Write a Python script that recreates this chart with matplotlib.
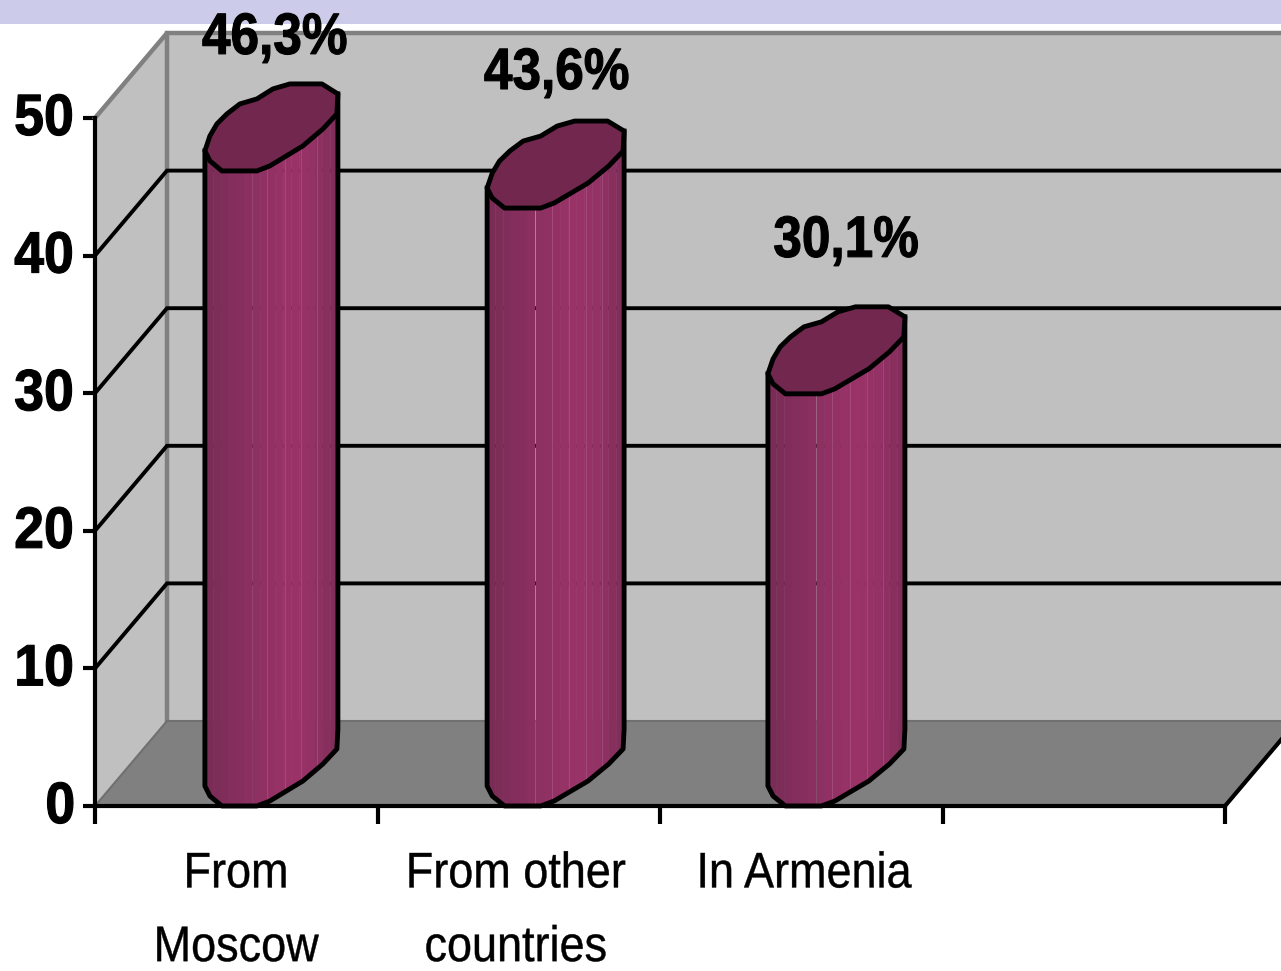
import numpy as np
import matplotlib
matplotlib.use("Agg")
import matplotlib.pyplot as plt
from matplotlib.patches import Polygon, Rectangle
from matplotlib.patheffects import AbstractPathEffect
from matplotlib.transforms import Affine2D

plt.rcParams['font.family'] = ['Liberation Sans', 'DejaVu Sans']

# ===== DATA =====
categories = ["From\nMoscow", "From other\ncountries", "In Armenia"]
values = [46.3, 43.6, 30.1]
value_labels = ["46,3%", "43,6%", "30,1%"]
y_ticks = [0, 10, 20, 30, 40, 50]

# ===== LAYOUT (pixels of the 1281x971 picture) =====
W, H = 1281, 971
X0, X1, Y0, Y50 = 95, 1225, 806, 118
SLOT = (X1 - X0) / 4
UNIT = (Y0 - Y50) / 50
DX = 72 / SLOT
DY = 85 / UNIT
TOP_SHIFT = 2 / UNIT
BAR_LEFT = [0.389, 1.388, 2.382]
BAR_PX = [133, 137, 137]
LABEL_X = [0.637, 1.635, 2.659]
LABEL_Y = [55.75, 53.2, 41.0]
CAT_X = [0.50, 1.49, 2.51]

# cap outline, pixels from the bar's left edge and the value height
CAP = np.array([
    (0, 20), (5, 10), (17, 0), (52, 0), (65, 5), (98, 25), (118, 42), (132, 57),
    (133, 77), (117, 87), (85, 87), (68, 82), (52, 72), (35, 67), (22, 57),
    (12, 47), (5, 35),
], dtype=float)

STRIPS = ["#7a2c57", "#7c2d58", "#802d5b", "#832e5c", "#862f5e", "#8a2f60", "#8d3062",
          "#903063", "#933164", "#963266", "#983267", "#983267", "#973267", "#943165",
          "#8f3062", "#882f5e", "#822e5b"]
CAP_COLOR = "#72274f"


class Narrow(AbstractPathEffect):
    # squeezes a text around its own middle, no narrow font is installed
    def __init__(self, sx, stroke=0):
        super().__init__()
        self.sx = sx
        self.stroke = stroke

    def draw_path(self, renderer, gc, tpath, affine, rgbFace=None):
        w = tpath.get_extents().x1
        t = Affine2D().translate(-w / 2, 0).scale(self.sx, 1).translate(w / 2, 0)
        gc0 = renderer.new_gc()
        gc0.copy_properties(gc)
        gc0.set_linewidth(self.stroke)
        gc0.set_foreground("black")
        renderer.draw_path(gc0, tpath, t + affine, rgbFace)
        gc0.restore()


fig = plt.figure(figsize=(W / 100, H / 100), dpi=100, facecolor="white")
fig.add_artist(Rectangle((0, 1 - 24 / H), 1, 24 / H, transform=fig.transFigure,
                         facecolor="#ccccea", edgecolor="none", zorder=0))
ax = fig.add_axes([X0 / W, 1 - Y0 / H, (X1 - X0) / W, (Y0 - Y50) / H])
ax.patch.set_visible(False)
ax.set_xlim(0, 4)
ax.set_ylim(0, 50)


def add_poly(pts, **kw):
    ax.add_patch(Polygon(pts, closed=True, clip_on=False, **kw))


right = 4 + 2 * DX
# ===== WALLS =====
add_poly([(DX, DY), (right, DY), (right, 50 + DY), (DX, 50 + DY)],
         facecolor="#c0c0c0", edgecolor="none", zorder=1)
add_poly([(0, 0), (DX, DY), (DX, 50 + DY), (0, 50)],
         facecolor="#c0c0c0", edgecolor="none", zorder=1)
add_poly([(0, 0), (DX, DY), (right, DY), (4 + DX, DY), (4, 0)],
         facecolor="#808080", edgecolor="none", zorder=1)
ax.plot([0, DX, DX], [50, 50 + DY, DY], color="#808080", lw=3.2, clip_on=False, zorder=2)
ax.plot([DX, right], [50 + DY, 50 + DY], color="#808080", lw=3.2, clip_on=False, zorder=2)
ax.plot([DX, right], [DY, DY], color="#707070", lw=1.5, clip_on=False, zorder=2)
ax.plot([0, DX], [0, DY], color="#707070", lw=1.5, clip_on=False, zorder=2)

for t in y_ticks[1:-1]:
    ax.plot([0, DX, right], [t, t + DY, t + DY], color="black", lw=2.8,
            clip_on=False, zorder=2, solid_joinstyle="miter")
ax.plot([4, 4 + DX], [0, DY], color="black", lw=3, clip_on=False, zorder=6)

# ===== BARS =====
for left, px, val, lab, lx, ly in zip(BAR_LEFT, BAR_PX, values, value_labels, LABEL_X, LABEL_Y):
    shape = CAP * [px / 133, 1]
    front = shape[:9]
    fx = left + front[:, 0] / SLOT
    fy = front[:, 1] / UNIT
    top = val - TOP_SHIFT
    edges = np.linspace(fx[0], fx[-1], len(STRIPS) + 1)
    for a, b, c in zip(edges[:-1], edges[1:], STRIPS):
        xs = np.linspace(a, b, 6)
        low = np.interp(xs, fx, fy)
        ax.fill_between(xs, low, low + top, color=c, lw=0.3, clip_on=False, zorder=3)
    for f in [0.47, 0.60, 0.72, 0.84]:
        xl = fx[0] + f * (fx[-1] - fx[0])
        low = np.interp(xl, fx, fy)
        ax.plot([xl, xl], [low, low + top], color="#b0608c", lw=0.6, alpha=0.6,
                clip_on=False, zorder=3)
    # outline of the column
    ax.plot(np.r_[fx[0], fx, fx[-1]], np.r_[top + fy[0], fy, top + fy[-1]],
            color="black", lw=3.5, clip_on=False, zorder=4, solid_joinstyle="round")
    cap = np.c_[left + shape[:, 0] / SLOT, top + shape[:, 1] / UNIT]
    add_poly(cap, facecolor=CAP_COLOR, edgecolor="black", lw=3.5, zorder=5, joinstyle="round")
    ax.text(lx, ly, lab, ha="center", va="center", fontsize=42, fontweight="bold",
            color="black", clip_on=False, zorder=7, path_effects=[Narrow(0.88, 0.8)])

# ===== AXES =====
for s in ["top", "right"]:
    ax.spines[s].set_visible(False)
for s in ["left", "bottom"]:
    ax.spines[s].set_linewidth(3)
    ax.spines[s].set_zorder(6)
ax.set_xticks(range(5))
ax.set_xticklabels([])
ax.set_yticks(y_ticks)
ax.set_yticklabels(y_ticks, fontsize=42, fontweight="bold")
ax.tick_params(axis="y", length=8.5, width=3, pad=3)
ax.tick_params(axis="x", length=13, width=3)
for t in ax.get_xticklines() + ax.get_yticklines():
    t.set_zorder(6)
for lab in ax.get_yticklabels():
    lab.set_transform(lab.get_transform() + Affine2D().translate(-2.5, 4))
    lab.set_path_effects([Narrow(0.92, 0.8)])

for x, c in zip(CAT_X, categories):
    ax.text(x, -3.3, c, ha="center", va="top", fontsize=36, color="black", clip_on=False,
            linespacing=1.77, path_effects=[Narrow(0.9, 0.3)])

fig.savefig("out.png", dpi=100)
